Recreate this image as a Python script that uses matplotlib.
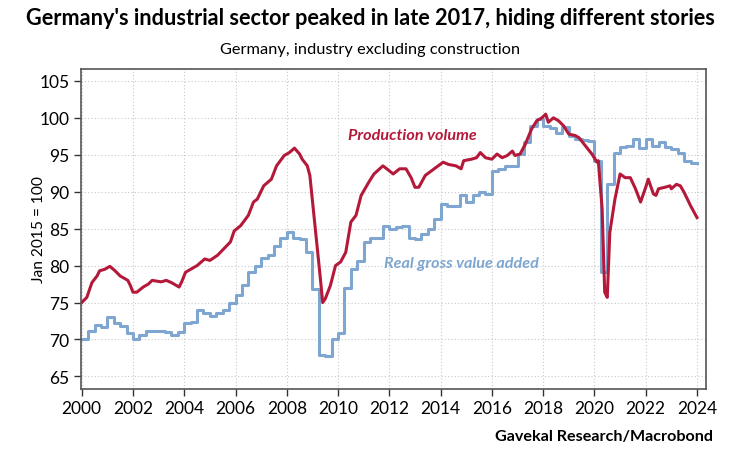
import numpy as np
import matplotlib
matplotlib.use("Agg")
import matplotlib.pyplot as plt

# --- data ---
prod_years = [
    2000.0, 2000.2, 2000.4, 2000.6, 2000.7, 2000.9, 2001.1, 2001.3, 2001.5, 2001.8,
    2001.9, 2002.0, 2002.15, 2002.4, 2002.6, 2002.75, 2003.1, 2003.3, 2003.5, 2003.8,
    2003.9, 2004.05, 2004.25, 2004.5, 2004.8, 2005.0, 2005.3, 2005.55, 2005.8, 2005.95,
    2006.2, 2006.5, 2006.7, 2006.85, 2007.1, 2007.4, 2007.6, 2007.9, 2008.1, 2008.3,
    2008.5, 2008.6, 2008.8, 2008.9, 2009.1, 2009.3, 2009.4, 2009.5, 2009.7, 2009.9,
    2010.1, 2010.3, 2010.5, 2010.7, 2010.9, 2011.2, 2011.4, 2011.75, 2011.9, 2012.15,
    2012.4, 2012.65, 2012.85, 2013.0, 2013.15, 2013.4, 2013.75, 2014.1, 2014.3, 2014.6,
    2014.8, 2014.9, 2015.2, 2015.4, 2015.55, 2015.75, 2016.0, 2016.2, 2016.4, 2016.6,
    2016.8, 2016.9, 2017.1, 2017.3, 2017.55, 2017.75, 2017.95, 2018.1, 2018.2, 2018.4,
    2018.6, 2018.8, 2019.0, 2019.25, 2019.4, 2019.65, 2019.9, 2020.1, 2020.15, 2020.3,
    2020.4, 2020.5, 2020.6, 2020.8, 2021.0, 2021.2, 2021.4, 2021.6, 2021.8, 2022.0,
    2022.1, 2022.3, 2022.4, 2022.5, 2022.75, 2022.95, 2023.0, 2023.2, 2023.35, 2023.5,
    2023.75, 2024.0,
]
prod_values = [
    75.0, 75.7, 77.7, 78.6, 79.3, 79.5, 79.9, 79.3, 78.6, 78.0,
    77.3, 76.4, 76.4, 77.1, 77.5, 78.0, 77.8, 78.0, 77.7, 77.1,
    77.8, 79.1, 79.5, 80.0, 80.9, 80.7, 81.4, 82.3, 83.2, 84.7,
    85.4, 86.8, 88.6, 89.0, 90.8, 91.7, 93.5, 94.9, 95.3, 95.9,
    95.1, 94.4, 93.5, 92.2, 85.4, 78.6, 75.0, 75.5, 77.3, 80.0,
    80.5, 81.8, 85.9, 86.8, 89.5, 91.3, 92.4, 93.5, 93.1, 92.4,
    93.1, 93.1, 91.9, 90.6, 90.6, 92.2, 93.1, 94.0, 93.7, 93.5,
    93.1, 94.2, 94.4, 94.6, 95.3, 94.6, 94.4, 95.1, 94.6, 94.9,
    95.5, 94.9, 95.1, 96.4, 98.5, 99.6, 100.0, 100.5, 99.4, 100.0,
    99.6, 98.9, 97.8, 97.6, 97.3, 96.2, 95.1, 94.0, 94.2, 87.7,
    76.4, 75.7, 84.5, 89.0, 92.4, 91.9, 91.9, 90.4, 88.6, 90.6,
    91.7, 89.7, 89.5, 90.4, 90.6, 90.8, 90.4, 91.0, 90.8, 89.9,
    88.1, 86.5,
]

# quarterly, 2000Q1 .. 2023Q4
gva_values = [
    70.0, 71.2, 72.0, 71.7, 73.1, 72.2, 71.8, 70.9,
    70.0, 70.6, 71.1, 71.2, 71.2, 71.0, 70.6, 71.0,
    72.2, 72.4, 74.0, 73.6, 73.2, 73.6, 74.0, 74.9,
    76.0, 77.4, 79.1, 80.0, 81.0, 81.4, 82.6, 83.8,
    84.6, 83.7, 83.6, 81.8, 76.9, 67.9, 67.8, 70.0,
    70.9, 77.0, 79.5, 80.6, 83.2, 83.8, 83.8, 85.3,
    85.0, 85.2, 85.4, 83.8, 83.6, 84.3, 84.9, 86.3,
    88.3, 88.1, 88.1, 89.5, 88.6, 89.5, 89.9, 89.7,
    92.8, 93.1, 93.5, 93.5, 95.1, 96.7, 98.9, 99.9,
    98.9, 98.6, 98.0, 98.7, 97.6, 97.1, 97.0, 96.9,
    94.2, 79.1, 91.0, 95.3, 96.0, 96.2, 97.1, 95.9,
    97.1, 96.2, 96.7, 96.0, 95.8, 95.3, 94.2, 93.9,
]
gva_years = [2000 + 0.25 * i for i in range(len(gva_values))]

year_ticks = list(range(2000, 2025, 2))
value_ticks = list(range(65, 106, 5))

RED = "#b5193a"
BLUE = "#7ea6d0"
FONT = ["Lato", "DejaVu Sans"]
plt.rcParams["font.family"] = FONT

fig = plt.figure(figsize=(7.4, 4.64), dpi=100)
fig.patch.set_facecolor("white")
ax = fig.add_axes([0.109, 0.1595, 0.845, 0.6895])

ax.plot(gva_years + [2024.0], gva_values + [gva_values[-1]],
        drawstyle="steps-post", color=BLUE, linewidth=2.2)
ax.plot(prod_years, prod_values, color=RED, linewidth=2.2)

ax.set_xlim(1999.96, 2024.35)
ax.set_ylim(63.3, 106.6)
ax.set_xticks(year_ticks)
ax.set_yticks(value_ticks)
ax.set_xticklabels([str(y) for y in year_ticks], fontsize=12.5)
ax.set_yticklabels([str(v) for v in value_ticks], fontsize=12.5)
ax.tick_params(direction="out", length=5, width=1, color="#333333", pad=3)
ax.grid(True, color="#c8c8c8", linestyle=(0, (1, 2)), linewidth=0.8)
for s in ax.spines.values():
    s.set_color("#555555")
    s.set_linewidth(1.2)

ax.set_ylabel("Jan 2015 = 100", fontsize=11.2)
ax.yaxis.set_label_coords(-0.056, 0.5)

ax.text(2010.4, 97.7, "Production volume", color=RED, fontsize=11.6,
        fontweight="bold", fontstyle="italic", va="center")
ax.text(2011.8, 80.4, "Real gross value added", color=BLUE, fontsize=11.6,
        fontweight="bold", fontstyle="italic", va="center")

fig.text(0.5, 0.961, "Germany's industrial sector peaked in late 2017, hiding different stories",
         ha="center", va="center", fontsize=15.6, fontweight="bold")
fig.text(0.5, 0.892, "Germany, industry excluding construction",
         ha="center", va="center", fontsize=11.8)
fig.text(0.964, 0.058, "Gavekal Research/Macrobond", ha="right", va="center",
         fontsize=11.6, fontweight="bold")

fig.savefig("out.png", dpi=100, facecolor="white")
